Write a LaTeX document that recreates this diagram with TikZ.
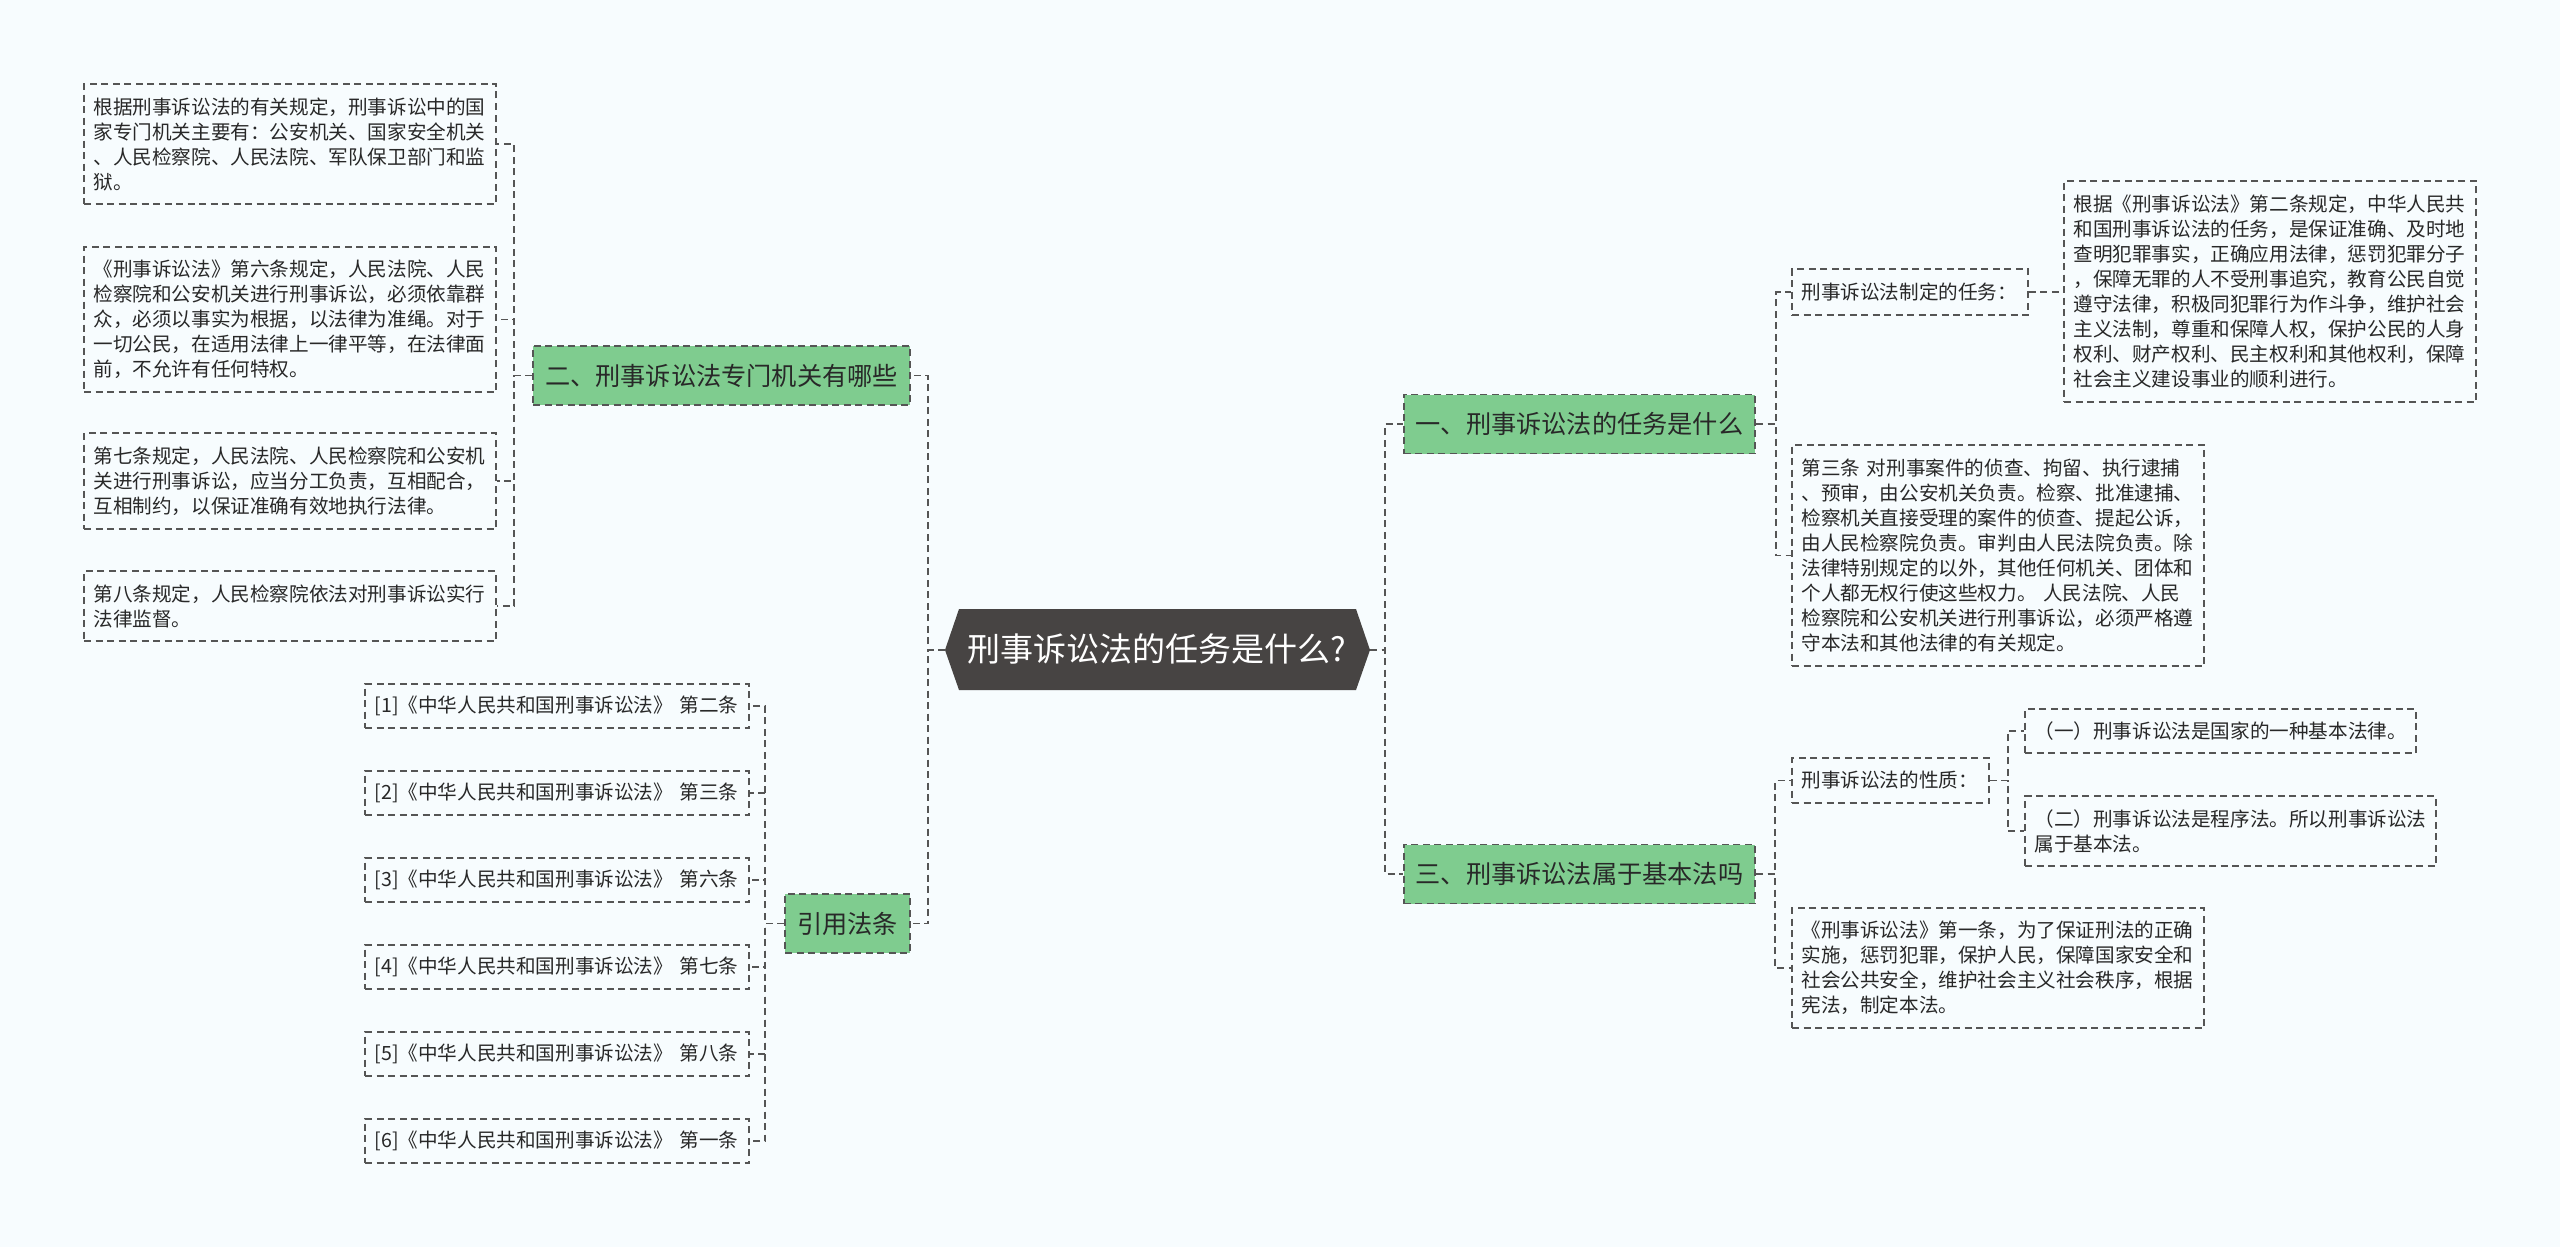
\documentclass[tikz,border=0pt]{standalone}
\usepackage{fontspec}
\setmainfont{Noto Sans CJK SC}
\definecolor{bgc}{RGB}{247,252,254}
\definecolor{lnc}{RGB}{85,85,85}
\definecolor{grnc}{RGB}{127,204,143}
\definecolor{rootc}{RGB}{71,68,67}
\definecolor{txtc}{RGB}{40,40,40}
\begin{document}
\begin{tikzpicture}[x=1pt,y=-1pt,
  conn/.style={draw=lnc, line width=1.8pt, dash pattern=on 7pt off 4.5pt},
  tbox/.style={draw=lnc, line width=1.8pt, dash pattern=on 7pt off 4.5pt, inner xsep=9.5pt, inner ysep=0pt, align=left, text=txtc, font=\fontsize{19.6}{25}\selectfont},
  wbox/.style={tbox, text width=393pt},
  gbox/.style={draw=lnc, line width=1.8pt, dash pattern=on 7pt off 4.5pt, fill=grnc, inner xsep=12pt, inner ysep=0pt, minimum height=59pt, text=txtc, font=\fontsize{25.2}{30}\selectfont},
  cbox/.style={tbox, text width=365pt, minimum height=44pt}
]
\fill[bgc] (0,0) rectangle (2560,1247);
\useasboundingbox (0,0) rectangle (2560,1247);

% root
\coordinate (rootW) at (945,650);
\coordinate (rootE) at (1370,650);
\fill[rootc] (rootW) -- (959,609) -- (1356,609) -- (rootE) -- (1356,690) -- (959,690) -- cycle;
\node[text=white, font=\fontsize{33}{38}\selectfont, inner sep=0pt] (root) at (1157,649) {刑事诉讼法的任务是什么?};

% level 1
\node[gbox] (n1) at (1579.5,424) {一、刑事诉讼法的任务是什么};
\node[gbox] (n3) at (1579.5,874) {三、刑事诉讼法属于基本法吗};
\node[gbox] (n2) at (721.5,375.5) {二、刑事诉讼法专门机关有哪些};
\node[gbox] (cite) at (847.5,923.5) {引用法条};

% right branch 1
\node[tbox, text width=217pt, minimum height=46pt] (task) at (1910,292) {刑事诉讼法制定的任务：};
\node[wbox, minimum height=221pt] (taskT) at (2270,291.5) {根据《刑事诉讼法》第二条规定，中华人民共\\和国刑事诉讼法的任务，是保证准确、及时地\\查明犯罪事实，正确应用法律，惩罚犯罪分子\\，保障无罪的人不受刑事追究，教育公民自觉\\遵守法律，积极同犯罪行为作斗争，维护社会\\主义法制，尊重和保障人权，保护公民的人身\\权利、财产权利、民主权利和其他权利，保障\\社会主义建设事业的顺利进行。};
\node[wbox, minimum height=221pt] (art3) at (1998,555.5) {第三条~对刑事案件的侦查、拘留、执行逮捕\\、预审，由公安机关负责。检察、批准逮捕、\\检察机关直接受理的案件的侦查、提起公诉，\\由人民检察院负责。审判由人民法院负责。除\\法律特别规定的以外，其他任何机关、团体和\\个人都无权行使这些权力。~人民法院、人民\\检察院和公安机关进行刑事诉讼，必须严格遵\\守本法和其他法律的有关规定。};

% right branch 3
\node[tbox, text width=178pt, minimum height=45pt] (nat) at (1890.5,780.5) {刑事诉讼法的性质：};
\node[tbox, text width=372pt, minimum height=44pt] (natA) at (2220.5,731) {（一）刑事诉讼法是国家的一种基本法律。};
\node[tbox, text width=392pt, minimum height=70pt] (natB) at (2230.5,831) {（二）刑事诉讼法是程序法。所以刑事诉讼法\\属于基本法。};
\node[wbox, minimum height=120pt] (art1) at (1998,968) {《刑事诉讼法》第一条，为了保证刑法的正确\\实施，惩罚犯罪，保护人民，保障国家安全和\\社会公共安全，维护社会主义社会秩序，根据\\宪法，制定本法。};

% left branch 2
\node[wbox, minimum height=120pt] (bA) at (290,144) {根据刑事诉讼法的有关规定，刑事诉讼中的国\\家专门机关主要有：公安机关、国家安全机关\\、人民检察院、人民法院、军队保卫部门和监\\狱。};
\node[wbox, minimum height=145pt] (bB) at (290,319.5) {《刑事诉讼法》第六条规定，人民法院、人民\\检察院和公安机关进行刑事诉讼，必须依靠群\\众，必须以事实为根据，以法律为准绳。对于\\一切公民，在适用法律上一律平等，在法律面\\前，不允许有任何特权。};
\node[wbox, minimum height=96pt] (bC) at (290,481) {第七条规定，人民法院、人民检察院和公安机\\关进行刑事诉讼，应当分工负责，互相配合，\\互相制约，以保证准确有效地执行法律。};
\node[wbox, minimum height=70pt] (bD) at (290,606) {第八条规定，人民检察院依法对刑事诉讼实行\\法律监督。};

% citations
\node[cbox] (c1) at (557,706) {[1]《中华人民共和国刑事诉讼法》~第二条};
\node[cbox] (c2) at (557,793) {[2]《中华人民共和国刑事诉讼法》~第三条};
\node[cbox] (c3) at (557,880) {[3]《中华人民共和国刑事诉讼法》~第六条};
\node[cbox] (c4) at (557,967) {[4]《中华人民共和国刑事诉讼法》~第七条};
\node[cbox] (c5) at (557,1054) {[5]《中华人民共和国刑事诉讼法》~第八条};
\node[cbox] (c6) at (557,1141) {[6]《中华人民共和国刑事诉讼法》~第一条};

% connectors
\draw[conn] (rootW) -- ++(-17,0) |- (n2.east);
\draw[conn] (rootW) -- ++(-17,0) |- (cite.east);
\draw[conn] (rootE) -- ++(15,0) |- (n1.west);
\draw[conn] (rootE) -- ++(15,0) |- (n3.west);

\draw[conn] (n1.east) -- ++(20,0) |- (task.west);
\draw[conn] (n1.east) -- ++(20,0) |- (art3.west);
\draw[conn] (task.east) -- (task.east -| taskT.west);

\draw[conn] (n3.east) -- ++(19,0) |- (nat.west);
\draw[conn] (n3.east) -- ++(19,0) |- (art1.west);
\draw[conn] (nat.east) -- ++(18,0) |- (natA.west);
\draw[conn] (nat.east) -- ++(18,0) |- (natB.west);

\draw[conn] (n2.west) -- ++(-18,0) |- (bA.east);
\draw[conn] (n2.west) -- ++(-18,0) |- (bB.east);
\draw[conn] (n2.west) -- ++(-18,0) |- (bC.east);
\draw[conn] (n2.west) -- ++(-18,0) |- (bD.east);

\draw[conn] (cite.west) -- ++(-19,0) |- (c1.east);
\draw[conn] (cite.west) -- ++(-19,0) |- (c2.east);
\draw[conn] (cite.west) -- ++(-19,0) |- (c3.east);
\draw[conn] (cite.west) -- ++(-19,0) |- (c4.east);
\draw[conn] (cite.west) -- ++(-19,0) |- (c5.east);
\draw[conn] (cite.west) -- ++(-19,0) |- (c6.east);
\end{tikzpicture}
\end{document}
